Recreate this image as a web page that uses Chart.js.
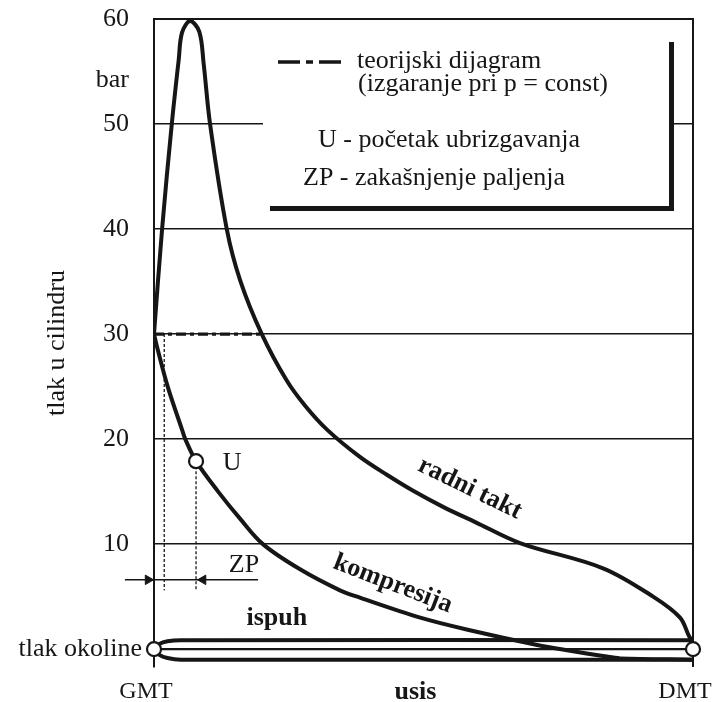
<!DOCTYPE html>
<html><head><meta charset="utf-8">
<style>html,body{margin:0;padding:0;background:#fff}#wrap{width:712px;height:702px}</style>
<script src="https://cdn.jsdelivr.net/npm/chart.js@4.4.1/dist/chart.umd.min.js"></script>
</head><body><div id="wrap"><canvas id="c" width="712" height="702"></canvas></div>
<script>
// ---- data (x = piston position 0 = GMT .. 100 = DMT, p = cylinder pressure in bar above ambient) ----
const xTickValues = [0, 50, 100];
const xTickLabels = ['GMT', 'usis', 'DMT'];
const yTickValues = [10, 20, 30, 40, 50, 54.2, 60];
const yTickLabels = ['10', '20', '30', '40', '50', 'bar', '60'];
const gridValues = [10, 20, 30, 40, 50, 60];

const radniX = [0, 1.5, 3.3, 4.6, 5.2, 6.7, 8.4, 9.2, 10.4, 13.5, 16, 20, 24.6, 28.0, 32.1, 38.2, 43.2, 48, 53.8, 59.6, 67.9, 83.3, 92.6, 97.6, 99.4, 100];
const radniP = [30, 40, 50, 56.2, 58.7, 59.8, 58.8, 55.8, 50, 40, 35.1, 30, 25.6, 23.2, 20.9, 18.3, 16.6, 15.1, 13.5, 12.1, 10.1, 7.7, 5.0, 3.0, 1.1, 0.9];

const kompX = [0, 0.7, 2.6, 5.2, 5.8, 7.8, 11.9, 16, 20.2, 27.1, 34.5, 38.2, 49.4, 58.6, 71.1, 77.2, 83.3, 86.5, 100];
const kompP = [30, 28.5, 24.9, 20.9, 20, 17.9, 15.0, 12.4, 10, 7.6, 5.6, 4.9, 3.0, 1.8, 0.4, -0.15, -0.65, -0.88, -1.0];

const ispuhX = [0, 1, 2.5, 5, 100];
const ispuhP = [0, 0.5, 0.75, 0.85, 0.85];
const usisX = [0, 1, 2.5, 5, 100];
const usisP = [0, -0.55, -0.85, -1.0, -1.0];
const okolinaX = [0, 100];
const okolinaP = [0, 0];

const teorX = [0, 20];
const teorP = [30, 30];

const pointX = [0, 100, 7.8];          // GMT, DMT, U
const pointP = [0, 0, 17.9];

const guide1X = [1.9, 1.9];  const guide1P = [30, 5.6];
const guide2X = [7.8, 7.8];  const guide2P = [17.9, 5.6];
const zpX = [-5.4, 19.3];    const zpP = [6.6, 6.6];
const arrowX = [-1.1, 9.1];  const arrowP = [6.6, 6.6];

// ---- helpers ----
const zip = (xs, ys) => xs.map((x, i) => ({x: x, y: ys[i]}));
const INK = '#161616';
const SERIF = "'Liberation Serif', 'Times New Roman', serif";
const FS = 26;

function lineDs(xs, ys, width, extra) {
  return Object.assign({
    data: zip(xs, ys), showLine: true, borderColor: INK, borderWidth: width,
    pointRadius: 0, fill: false, tension: 0.35, borderJoinStyle: 'round', borderCapStyle: 'round'
  }, extra || {});
}

const datasets = [
  {data: zip(pointX, pointP), showLine: false, pointRadius: 7, pointBackgroundColor: '#fff',
   pointBorderColor: INK, pointBorderWidth: 2.2, clip: false},
  {data: zip(arrowX, arrowP), showLine: false, pointStyle: 'triangle', pointRadius: 5.5,
   rotation: [90, -90], pointBackgroundColor: INK, pointBorderColor: INK, pointBorderWidth: 1, clip: false},
  lineDs(radniX, radniP, 4),
  lineDs(kompX, kompP, 4),
  lineDs(ispuhX, ispuhP, 4),
  lineDs(usisX, usisP, 4),
  lineDs(okolinaX, okolinaP, 2.2, {tension: 0}),
  lineDs(teorX, teorP, 3.2, {tension: 0, borderDash: [10, 4, 4, 4], borderCapStyle: 'butt'}),
  lineDs(guide1X, guide1P, 1.3, {tension: 0, borderDash: [3, 2], borderCapStyle: 'butt'}),
  lineDs(guide2X, guide2P, 1.3, {tension: 0, borderDash: [3, 2], borderCapStyle: 'butt'}),
  lineDs(zpX, zpP, 1.5, {tension: 0, clip: false, borderCapStyle: 'butt'})
];

const textPlugin = {
  id: 'texts',
  beforeDatasetsDraw(chart) {
    const ctx = chart.ctx;
    ctx.save();
    // legend box (white, with heavy shadow at the bottom and right)
    ctx.fillStyle = '#fff';
    ctx.fillRect(263, 21, 409, 186);
    ctx.fillStyle = INK;
    ctx.fillRect(270, 206, 404, 5);
    ctx.fillRect(669, 42, 5, 169);
    // right frame
    const a = chart.chartArea;
    ctx.fillRect(a.right - 1, a.top - 1, 2, a.bottom - a.top + 1);
    ctx.restore();
  },
  afterDatasetsDraw(chart) {
    const ctx = chart.ctx, xs = chart.scales.x, ys = chart.scales.y, a = chart.chartArea;
    ctx.save();
    ctx.fillStyle = INK;
    ctx.textBaseline = 'middle';
    const put = (txt, px, py, opt) => {
      opt = opt || {};
      ctx.save();
      ctx.font = (opt.bold ? 'bold ' : '') + (opt.size || FS) + 'px ' + SERIF;
      ctx.textAlign = opt.align || 'center';
      ctx.translate(px, py);
      if (opt.rot) ctx.rotate(opt.rot * Math.PI / 180);
      ctx.fillText(txt, 0, 0);
      ctx.restore();
    };
    // ambient pressure label
    put('tlak okoline', a.left - 12, ys.getPixelForValue(0), {align: 'right'});
    // in-plot labels (data coordinates)
    put('U', xs.getPixelForValue(14.5), ys.getPixelForValue(17.7));
    put('ZP', xs.getPixelForValue(16.7), ys.getPixelForValue(8.0));
    put('ispuh', xs.getPixelForValue(22.8), ys.getPixelForValue(2.9), {bold: true});
    put('radni takt', xs.getPixelForValue(58.6), ys.getPixelForValue(15.3), {bold: true, rot: 26});
    put('kompresija', xs.getPixelForValue(44.3), ys.getPixelForValue(6.2), {bold: true, rot: 21});
    // legend contents
    ctx.save();
    ctx.strokeStyle = INK; ctx.lineWidth = 3.5; ctx.setLineDash([22, 6, 7, 6]);
    ctx.beginPath(); ctx.moveTo(278, 62); ctx.lineTo(341, 62); ctx.stroke();
    ctx.restore();
    put('teorijski dijagram', 357, 61, {align: 'left'});
    put('(izgaranje pri p = const)', 358, 84, {align: 'left'});
    put('U - početak ubrizgavanja', 318, 140, {align: 'left'});
    put('ZP - zakašnjenje paljenja', 303, 178, {align: 'left'});
    ctx.restore();
  }
};

function zeroPad(s) { s.paddingLeft = 0; s.paddingRight = 0; s.paddingTop = 0; s.paddingBottom = 0; }

new Chart(document.getElementById('c'), {
  type: 'scatter',
  data: {datasets: datasets},
  options: {
    responsive: false, animation: false, devicePixelRatio: 1,
    layout: {padding: {left: 0, right: 19, top: 19, bottom: 0}},
    plugins: {legend: {display: false}, tooltip: {enabled: false}},
    scales: {
      x: {
        type: 'linear', min: 0, max: 100,
        afterFit(s) { s.height = 35; zeroPad(s); },
        afterBuildTicks(s) { s.ticks = xTickValues.map(v => ({value: v})); },
        ticks: {
          autoSkip: false, maxRotation: 0, padding: 10, labelOffset: -8, color: INK,
          callback: (v) => xTickLabels[xTickValues.indexOf(v)],
          font: (c) => ({family: SERIF, size: c.tick && c.tick.value === 50 ? FS : 24,
                         weight: c.tick && c.tick.value === 50 ? 'bold' : 'normal'})
        },
        grid: {display: false, drawTicks: false},
        border: {display: false}
      },
      y: {
        type: 'linear', min: -1.7, max: 60,
        afterFit(s) { s.width = 154; zeroPad(s); },
        afterBuildTicks(s) { s.ticks = yTickValues.map(v => ({value: v})); },
        ticks: {
          autoSkip: false, padding: 25, color: INK,
          callback: (v) => yTickLabels[yTickValues.indexOf(v)],
          font: {family: SERIF, size: FS}
        },
        grid: {
          drawTicks: false,
          color: (c) => gridValues.indexOf(c.tick.value) >= 0 ? INK : 'rgba(0,0,0,0)',
          lineWidth: (c) => c.tick.value === 60 ? 2 : 1.5
        },
        border: {display: true, color: INK, width: 2},
        title: {display: true, text: 'tlak u cilindru', color: INK,
                font: {family: SERIF, size: FS}, padding: {top: 42, bottom: 0}}
      }
    }
  },
  plugins: [textPlugin]
});
</script>
</body></html>
